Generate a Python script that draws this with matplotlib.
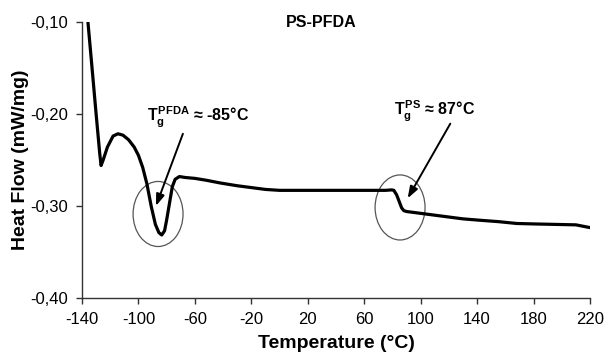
import matplotlib

matplotlib.use("Agg")
import matplotlib.pyplot as plt
from matplotlib.patches import Ellipse

plt.rcParams["font.family"] = ["Liberation Sans", "DejaVu Sans"]
plt.rcParams["mathtext.fontset"] = "custom"
plt.rcParams["mathtext.rm"] = "Liberation Sans:bold"
plt.rcParams["mathtext.bf"] = "Liberation Sans:bold"
plt.rcParams["mathtext.it"] = "Liberation Sans:bold"

# DSC trace
temperature = [
    -135.8, -133, -130, -127.5, -126.5, -125, -122, -118, -114.5, -111,
    -107, -103, -100, -97, -94, -91, -88, -85.5, -83.5, -81.5,
    -80, -78, -76, -74, -71, -67, -60, -52, -42, -30,
    -20, -10, 0, 10, 20, 40, 60, 75, 79.5, 81,
    83, 85, 86.5, 88, 90, 95, 100, 110, 120, 130,
    142, 155, 168, 180, 195, 210, 215, 220,
]
heat_flow = [
    -0.100, -0.148, -0.200, -0.242, -0.256, -0.250, -0.236, -0.224, -0.2215, -0.223,
    -0.228, -0.236, -0.245, -0.258, -0.276, -0.300, -0.320, -0.329, -0.3315, -0.327,
    -0.315, -0.297, -0.279, -0.271, -0.268, -0.269, -0.270, -0.272, -0.275, -0.278,
    -0.280, -0.282, -0.283, -0.283, -0.283, -0.283, -0.283, -0.283, -0.2825, -0.283,
    -0.288, -0.296, -0.302, -0.305, -0.306, -0.307, -0.308, -0.310, -0.312, -0.314,
    -0.3155, -0.317, -0.319, -0.3195, -0.320, -0.3205, -0.322, -0.3235,
]

x_ticks = list(range(-140, 221, 40))
y_ticks = [-0.40, -0.30, -0.20, -0.10]
y_tick_labels = ["-0,40", "-0,30", "-0,20", "-0,10"]

# glass transitions: ellipse centre, label, label centre, arrow start, arrow tip
tg_pfda = ((-86.1, -0.3087), r"$T_g^{PFDA}$ ≈ -85°C", (-58.0, -0.2215), (-68.5, -0.2215), (-87.6, -0.300))
tg_ps = ((85.4, -0.3016), r"$T_g^{PS}$ ≈ 87°C", (110.0, -0.2145), (121.0, -0.2105), (90.8, -0.2916))

fig = plt.figure(figsize=(6.07, 3.57), dpi=100)
ax = fig.add_axes([0.1351, 0.1653, 0.8369, 0.7731])

ax.plot(temperature, heat_flow, color="black", linewidth=2.3, solid_joinstyle="round")

for centre, label, text_pos, start, tip in [tg_pfda, tg_ps]:
    ax.add_patch(Ellipse(centre, 35.4, 0.0707, fill=False, edgecolor="#555555", linewidth=0.9))
    ax.annotate(
        "",
        xy=tip,
        xytext=start,
        arrowprops=dict(arrowstyle="-|>,head_length=0.7,head_width=0.25", color="black",
                        linewidth=1.4, shrinkA=0, shrinkB=0),
    )
    ax.text(text_pos[0], text_pos[1] + 0.004, label, fontsize=11.5, fontweight="bold",
            ha="center", va="bottom")

ax.set_xlim(-140, 220)
ax.set_ylim(-0.40, -0.10)
ax.set_xticks(x_ticks)
ax.set_xticklabels([str(t) for t in x_ticks])
ax.set_yticks(y_ticks)
ax.set_yticklabels(y_tick_labels)
ax.tick_params(direction="out", length=4, width=1, labelsize=12, color="#333333", pad=6)

for side in ["top", "right"]:
    ax.spines[side].set_visible(False)
for side in ["left", "bottom"]:
    ax.spines[side].set_color("#333333")
    ax.spines[side].set_linewidth(1)

ax.set_xlabel("Temperature (°C)", fontsize=14, fontweight="bold", labelpad=6)
ax.set_ylabel("Heat Flow (mW/mg)", fontsize=14, fontweight="bold", labelpad=1)
fig.text(0.529, 0.938, "PS-PFDA", fontsize=11.5, fontweight="bold", ha="center", va="center")

fig.savefig("out.png", dpi=100)
